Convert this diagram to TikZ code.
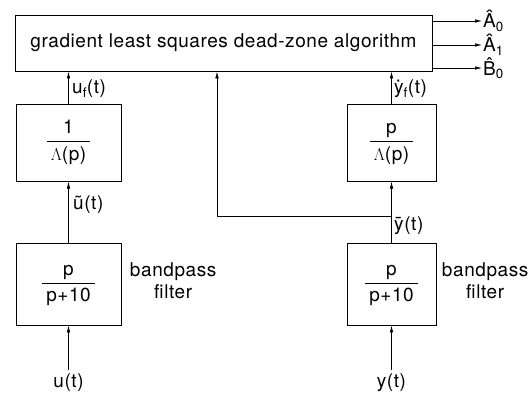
\documentclass[tikz,border=0pt]{standalone}
\usepackage{fontspec}
\setmainfont[LetterSpace=3]{TeX Gyre Heros}
\usetikzlibrary{positioning}
\usetikzlibrary{arrows.meta}
\tikzstyle{blockbox} = [draw, rectangle, line width=0.9pt, inner sep=0pt, align=center]
\tikzstyle{sig} = [line width=0.6pt, ->]
\tikzstyle{siglabel} = [inner sep=1pt, anchor=west]
\newcommand{\blockfrac}[2]{{\setlength{\arrayrulewidth}{0.8pt}%
  \begin{tabular}{@{\hspace{4pt}}c@{\hspace{4pt}}}#1\\[1pt]\hline\rule{0pt}{18pt}#2\end{tabular}}}
\newcommand{\hatted}[1]{\accent"02C6 #1}

\begin{document}
\begin{tikzpicture}[x=1pt, y=-1pt, >={Latex[length=7pt,width=3.5pt]},
    font=\fontsize{19}{22}\selectfont]
  \useasboundingbox (0,0) rectangle (528,397);

  % estimator
  \node[blockbox, minimum width=417, minimum height=56] (alg) at (223.5,43)
    {gradient least squares dead-zone algorithm};
  \node[siglabel] (A0) at (482,21) {\^{A}\textsubscript{0}};
  \node[siglabel] (A1) at (482,45) {\^{A}\textsubscript{1}};
  \node[siglabel] (B0) at (482,68) {\hatted{B}\textsubscript{0}};
  \draw[sig] (alg.east |- A0) -- (A0.west);
  \draw[sig] (alg.east |- A1) -- (A1.west);
  \draw[sig] (alg.east |- B0) -- (B0.west);

  % input branch
  \node[blockbox, minimum width=105, minimum height=82] (ufilt) at (68.5,284)
    {\blockfrac{p}{p+10}};
  \node[blockbox, minimum width=105, minimum height=77, above=61pt of ufilt] (umod)
    {\blockfrac{1}{$\Lambda$(p)}};
  \node[align=center, right=5pt of ufilt, yshift=3pt] (uband) {bandpass\\filter};
  \coordinate (uin) at (68.5,370);
  \node[below=0pt of uin] (u) {u(t)};
  \draw[sig] (uin) -- (ufilt);
  \draw[sig] (ufilt) -- (umod);
  \draw[sig] (umod) -- (umod |- alg.south);
  \node[siglabel] (ubar) at (72,205) {\~{u}(t)};
  \node[siglabel] (uf) at (71,89) {u\textsubscript{f}(t)};

  % output branch
  \node[blockbox, minimum width=89, minimum height=82] (yfilt) at (391.5,284)
    {\blockfrac{p}{p+10}};
  \node[blockbox, minimum width=89, minimum height=77, above=61pt of yfilt] (ymod)
    {\blockfrac{p}{$\Lambda$(p)}};
  \node[align=center, right=2pt of yfilt, yshift=3pt] (yband) {bandpass\\filter};
  \coordinate (yin) at (391.5,370);
  \node[below=0pt of yin] (y) {y(t)};
  \draw[sig] (yin) -- (yfilt);
  \draw[sig] (yfilt) -- (ymod);
  \draw[sig] (ymod) -- (ymod |- alg.south);
  \node[siglabel] (ybar) at (393,226) {\={y}(t)};
  \node[siglabel] (yf) at (393,89) {\.{y}\textsubscript{f}(t)};

  % filtered output fed to the estimator
  \coordinate (tap) at (391.5,216);
  \coordinate (bend) at (217,216);
  \draw[line width=0.6pt] (tap) -- (bend);
  \draw[sig] (bend) -- (bend |- alg.south);
\end{tikzpicture}
\end{document}
